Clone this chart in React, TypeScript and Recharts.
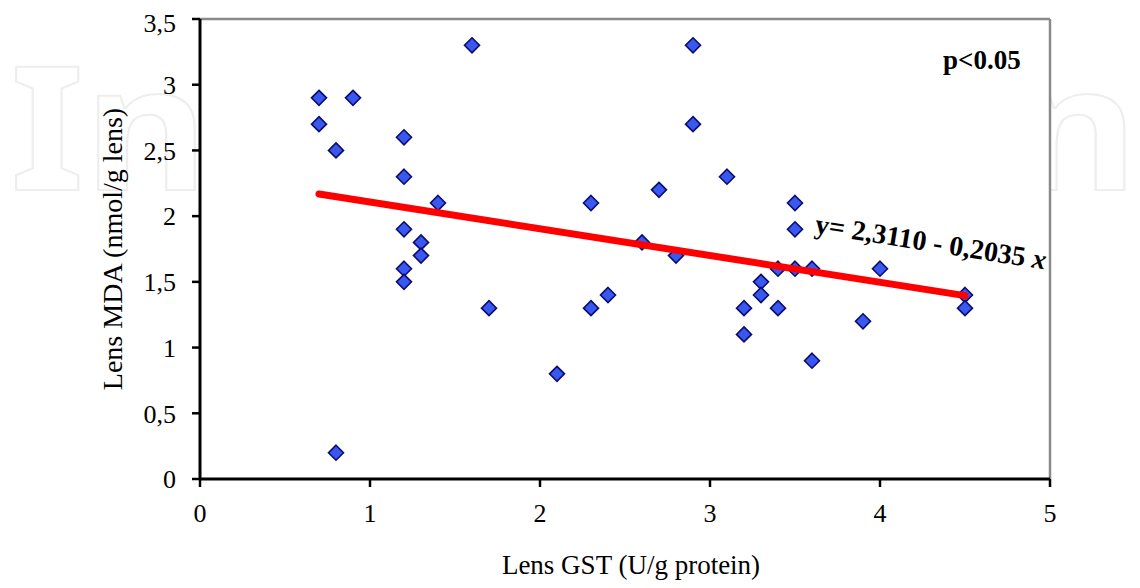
import React from 'react'
import {
  CartesianGrid,
  ReferenceLine,
  Scatter,
  ScatterChart,
  XAxis,
  YAxis,
} from 'recharts'

// Lens GST (U/g protein) vs Lens MDA (nmol/g lens)
const gstValues = [
  0.7, 0.7, 0.9, 0.8, 0.8, 1.2, 1.2, 1.2, 1.2, 1.2, 1.3, 1.3, 1.4, 1.6, 1.7, 2.1, 2.3, 2.3, 2.4, 2.6,
  2.7, 2.8, 2.9, 2.9, 3.1, 3.2, 3.2, 3.3, 3.3, 3.4, 3.4, 3.5, 3.5, 3.5, 3.6, 3.6, 3.9, 4.0, 4.5, 4.5,
]
const mdaValues = [
  2.9, 2.7, 2.9, 2.5, 0.2, 2.6, 2.3, 1.9, 1.6, 1.5, 1.8, 1.7, 2.1, 3.3, 1.3, 0.8, 2.1, 1.3, 1.4, 1.8,
  2.2, 1.7, 3.3, 2.7, 2.3, 1.3, 1.1, 1.5, 1.4, 1.6, 1.3, 2.1, 1.9, 1.6, 1.6, 0.9, 1.2, 1.6, 1.4, 1.3,
]
const xTicks = [0, 1, 2, 3, 4, 5]
const yTicks = [0, 0.5, 1, 1.5, 2, 2.5, 3, 3.5]

// regression y = 2,3110 - 0,2035 x, drawn over the observed GST range
const fitIntercept = 2.311
const fitSlope = -0.2035
const fitRange = [0.7, 4.5]

const points = gstValues.map((x, i) => ({ x, y: mdaValues[i] }))
const fitLine = fitRange.map((x) => ({ x, y: fitIntercept + fitSlope * x }))

const SERIF = '"Liberation Serif", "Times New Roman", serif'
const W = 1132
const H = 580

const Diamond = (props: any) => {
  const { cx, cy } = props
  if (cx == null || cy == null) return null
  const r = 7.5
  return (
    <path
      d={`M${cx},${cy - r}L${cx + r},${cy}L${cx},${cy + r}L${cx - r},${cy}Z`}
      fill="#3858f0"
      stroke="#0c0c70"
      strokeWidth={1.6}
    />
  )
}

const commaTick = (v: number) => String(v).replace('.', ',')

export default function App() {
  return (
    <div style={{ position: 'relative', width: W, height: H }}>
      {/* faint watermark behind the plot */}
      <svg width={W} height={H} style={{ position: 'absolute', left: 0, top: 0 }}>
        <text
          x={2}
          y={182}
          fontFamily='"Noto Sans", sans-serif'
          fontSize={172}
          fontWeight="bold"
          fill="#fff"
          stroke="#eeeeee"
          strokeWidth={2}
          textLength={1128}
          lengthAdjust="spacingAndGlyphs"
        >
          IntechOpen
        </text>
      </svg>
      <div style={{ position: 'absolute', left: 0, top: 0 }}>
        <ScatterChart width={W} height={H} margin={{ top: 11, right: 90, bottom: 79, left: 112 }}>
          <CartesianGrid horizontal={false} vertical={false} fill="#fff" />
          <XAxis
            type="number"
            dataKey="x"
            domain={[0, 5]}
            ticks={xTicks}
            height={30}
            tickSize={8}
            tickMargin={17}
            axisLine={{ stroke: '#000', strokeWidth: 3 }}
            tickLine={{ stroke: '#000', strokeWidth: 2.5 }}
            tick={{ fill: '#000', fontSize: 26, fontFamily: SERIF }}
            allowDataOverflow
          />
          <YAxis
            type="number"
            dataKey="y"
            domain={[0, 3.5]}
            ticks={yTicks}
            width={80}
            tickSize={8}
            tickMargin={16}
            tickFormatter={commaTick}
            axisLine={{ stroke: '#000', strokeWidth: 3 }}
            tickLine={{ stroke: '#000', strokeWidth: 2.5 }}
            tick={{ fill: '#000', fontSize: 26, fontFamily: SERIF }}
            allowDataOverflow
          />
          <ReferenceLine y={3.5} stroke="#8a8a8a" strokeWidth={2.5} />
          <ReferenceLine x={5} stroke="#8a8a8a" strokeWidth={2.5} />
          <Scatter data={points} shape={<Diamond />} isAnimationActive={false} />
          <Scatter
            data={fitLine}
            line={{ stroke: '#ff0000', strokeWidth: 7, strokeLinecap: 'round' }}
            shape={() => null}
            isAnimationActive={false}
          />
        </ScatterChart>
      </div>
      {/* axis titles and annotations */}
      <svg
        width={W}
        height={H}
        style={{ position: 'absolute', left: 0, top: 0, pointerEvents: 'none' }}
      >
        <text
          x={104}
          y={241}
          transform="rotate(-90, 104, 241)"
          textAnchor="middle"
          dominantBaseline="central"
          fontFamily={SERIF}
          fontSize={28}
          fill="#000"
        >
          Lens MDA (nmol/g lens)
        </text>
        <text x={623} y={566} textAnchor="middle" fontFamily={SERIF} fontSize={27} fill="#000">
          Lens GST (U/g protein)
        </text>
        <text x={935} y={61} fontFamily={SERIF} fontSize={27} fontWeight="bold" fill="#000">
          p&lt;0.05
        </text>
        <text
          x={806}
          y={225}
          transform="rotate(9, 806, 225)"
          fontFamily={SERIF}
          fontSize={28}
          fontWeight="bold"
          fill="#000"
        >
          y= 2,3110 - 0,2035 <tspan fontStyle="italic">x</tspan>
        </text>
      </svg>
    </div>
  )
}
